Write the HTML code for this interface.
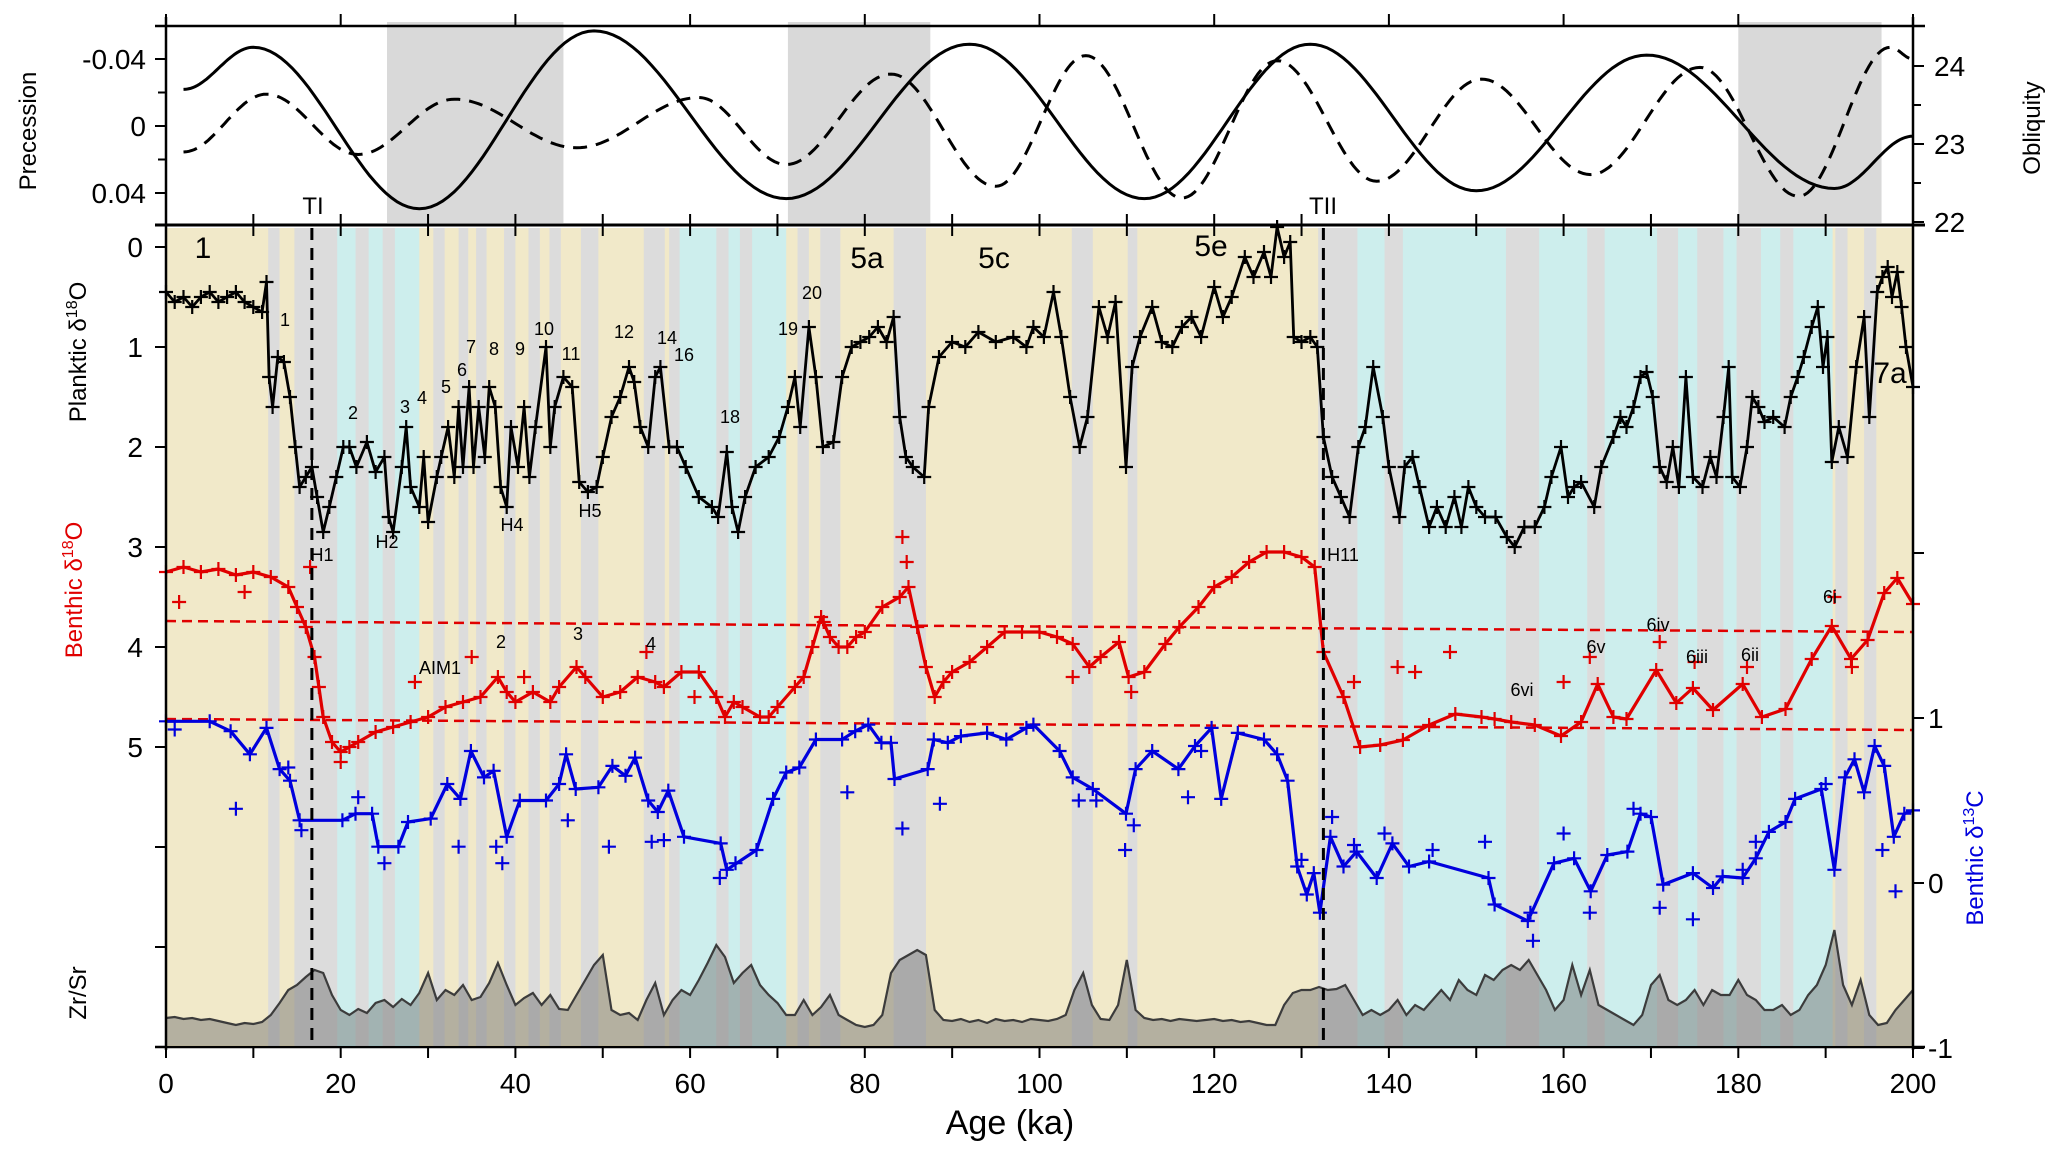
<!DOCTYPE html>
<html><head><meta charset="utf-8"><style>
html,body{margin:0;padding:0;background:#fff;}
svg{display:block;}
.tk{font-family:"Liberation Sans Narrow","Liberation Sans",sans-serif;font-size:28px;fill:#000;}
.ttl{font-family:"Liberation Sans","DejaVu Sans",sans-serif;font-size:24px;}
.an{font-family:"Liberation Sans Narrow","Liberation Sans",sans-serif;font-size:18px;fill:#000;}
.big{font-family:"Liberation Sans Narrow","Liberation Sans",sans-serif;font-size:30px;fill:#000;}
</style></head><body>
<svg id="chart" width="2067" height="1157" viewBox="0 0 2067 1157" xmlns="http://www.w3.org/2000/svg">
<g id="bands"></g>
<g id="topshade"></g>
<g id="series"></g>
<g id="axes"></g>
<g id="labels">
<text class="ttl" transform="translate(36,131) rotate(-90)" text-anchor="middle">Precession</text>
<text class="ttl" transform="translate(2040,128) rotate(-90)" text-anchor="middle">Obliquity</text>
<text class="ttl" transform="translate(86,352) rotate(-90)" text-anchor="middle">Planktic δ<tspan font-size="16" dy="-9">18</tspan><tspan dy="9">O</tspan></text>
<text class="ttl" fill="#e00000" transform="translate(82,590) rotate(-90)" text-anchor="middle">Benthic δ<tspan font-size="16" dy="-9">18</tspan><tspan dy="9">O</tspan></text>
<text class="ttl" transform="translate(86,993) rotate(-90)" text-anchor="middle">Zr/Sr</text>
<text class="ttl" fill="#0000dd" transform="translate(1983,858) rotate(-90)" text-anchor="middle">Benthic δ<tspan font-size="16" dy="-9">13</tspan><tspan dy="9">C</tspan></text>
<text class="tk" x="1010" y="1134" text-anchor="middle" style="font-size:34px">Age (ka)</text>
<text class="an" x="313" y="214" text-anchor="middle" style="font-size:24px">TI</text>
<text class="an" x="1323" y="214" text-anchor="middle" style="font-size:24px">TII</text>
<text class="big" x="203" y="258" text-anchor="middle">1</text>
<text class="big" x="867" y="268" text-anchor="middle">5a</text>
<text class="big" x="994" y="268" text-anchor="middle">5c</text>
<text class="big" x="1211" y="256" text-anchor="middle">5e</text>
<text class="big" x="1890" y="383" text-anchor="middle">7a</text>
</g>
</svg>
<script>
// ---- data ----
const bandStart=[0,11.7,13.0,14.7,19.6,21.7,23.2,24.8,26.2,29.0,30.6,31.9,33.5,34.6,35.5,36.7,38.7,40.0,41.5,42.8,43.9,45.2,47.5,49.5,54.7,57.1,57.6,58.8,63.0,64.4,65.7,67.1,71.0,72.3,73.6,74.9,77.2,83.3,87.0,103.7,106.1,110.1,111.2,131.9,136.4,139.5,141.6,153.4,157.2,162.7,164.7,170.7,173.1,175.3,178.3,179.8,182.6,184.8,186.3,190.8,191.1,192.5,194.4,195.8];
const bandType=['t','g','t','g','c','g','c','g','c','t','g','t','g','t','g','t','g','t','g','t','g','t','g','t','g','t','g','c','g','c','g','c','t','g','t','g','t','g','t','g','t','g','t','g','c','g','c','g','c','g','c','g','c','g','c','g','c','g','c','t','g','t','g','t'];
const shadeStart=[25.3,71.2,180];
const shadeEnd=[45.5,87.5,196.4];

const oblAge=[2,10,29,49,71,92,112,131,150,169.5,191,200];
const oblVal=[23.7,24.24,22.17,24.45,22.3,24.28,22.3,24.28,22.4,24.14,22.43,23.1];
const precAge=[2,11.5,22,33,47,61,71,83,95,105.3,116.3,127.2,138.6,150.6,163.1,175.6,186.9,197.4,200];
const precVal=[0.0155,-0.019,0.017,-0.016,0.013,-0.017,0.023,-0.031,0.036,-0.042,0.043,-0.039,0.033,-0.028,0.029,-0.035,0.042,-0.047,-0.04];

const plAge=[0,1,2,3,4,5,6,7,8,9,10,11,11.5,11.8,12.2,12.8,13.5,14.2,14.8,15.3,16,16.7,17.3,18,18.7,19.5,20.3,21,21.8,23,24,25,25.5,26,27,27.5,28,29,29.5,30,31,31.5,32.3,33,33.5,34,34.7,35.2,35.8,36.5,37,37.7,38.3,39,39.5,40.3,41,41.6,42.3,43.5,44,44.5,45.5,46.5,47.3,48.3,49.3,50,51,52,53,53.6,54.3,55.2,56,56.6,57.6,58.5,59.5,61,62.5,63.2,64.2,64.8,65.5,66.3,67.5,69,70.2,71.2,72,72.6,73.6,74.4,75.2,76.4,77.4,78.5,79.5,80.5,81.5,82.5,83.3,84,84.7,85.5,86.8,87.3,88.5,90,91.5,93,95,97,98.5,99.3,100.5,101.6,102.5,103.5,104.6,105.5,106.8,107.8,108.7,109.9,110.6,111.5,112.9,114,115.2,116.3,117.4,118.5,120,121,122,123.5,124.5,125.7,126.5,127.2,128,128.7,129.1,130,131,131.8,132.5,133.5,134.5,135.5,136.5,137.3,138.2,139.3,140,141.2,141.8,142.7,143.5,144.6,145.5,146.5,147.5,148.3,149.1,150,151,152.2,153.5,154.4,155.5,156.7,157.8,158.6,159.7,160.5,161.2,162,163.5,164.3,165.7,166.5,167.2,168,168.8,169.5,170.2,171,171.8,172.5,173.2,174,174.8,175.9,176.8,177.5,178.3,178.9,179.3,180.2,181,181.6,182.3,183,184,185.3,186,186.8,187.5,188.4,189.1,189.7,190.2,190.7,191.5,192.5,193.5,194.4,195,195.9,196.5,197.1,197.6,198.2,198.7,199.2,200];
const plVal=[0.45,0.55,0.5,0.6,0.5,0.45,0.55,0.5,0.45,0.55,0.6,0.65,0.35,1.3,1.6,1.1,1.15,1.5,2.0,2.4,2.3,2.2,2.5,2.85,2.6,2.3,2.0,2.0,2.2,1.95,2.25,2.1,2.7,2.85,2.2,1.8,2.4,2.6,2.1,2.75,2.3,2.1,1.8,2.3,1.6,2.2,1.4,2.2,1.6,2.1,1.4,1.6,2.4,2.6,1.8,2.2,1.6,2.3,1.8,1.0,2.0,1.6,1.3,1.4,2.35,2.45,2.4,2.1,1.7,1.5,1.2,1.35,1.8,2.0,1.3,1.2,2.0,2.0,2.2,2.5,2.6,2.7,2.05,2.6,2.85,2.5,2.2,2.1,1.9,1.6,1.3,1.8,0.8,1.3,2.0,1.95,1.3,1.0,0.95,0.9,0.8,0.95,0.7,1.7,2.1,2.2,2.3,1.6,1.1,0.95,1.0,0.85,0.95,0.9,1.0,0.8,0.9,0.45,0.9,1.5,2.0,1.7,0.6,0.9,0.55,2.2,1.2,0.9,0.6,0.95,1.0,0.8,0.7,0.9,0.4,0.7,0.5,0.1,0.3,0.05,0.3,-0.2,0.1,-0.05,0.9,0.95,0.9,1.0,1.9,2.3,2.5,2.7,2.0,1.8,1.2,1.7,2.2,2.7,2.2,2.1,2.4,2.8,2.6,2.8,2.5,2.8,2.4,2.6,2.7,2.7,2.9,3.0,2.8,2.8,2.6,2.3,2.0,2.5,2.4,2.35,2.6,2.2,1.9,1.7,1.8,1.6,1.3,1.25,1.5,2.2,2.35,2.0,2.4,1.3,2.3,2.4,2.1,2.3,1.7,1.2,2.3,2.4,2.0,1.5,1.6,1.75,1.7,1.8,1.5,1.3,1.1,0.8,0.6,1.2,0.9,2.15,1.8,2.1,1.2,0.7,1.7,0.45,0.3,0.2,0.5,0.25,0.6,1.0,1.4];

const bnAge=[0,2,4,6,8,10,12,14,15,16,17,17.5,18,19,20,21,22,24,26,28,30,32,34,36,38,39,40,42,44,45,47,48,50,52,54,56,57,59,61,63,64,65,66,68,69,70,72,73,74,75,76,77,78,79,80,82,84,85,86,87,88,89,90,92,94,96,98,100,102,103.8,105.7,107,109.1,110.2,112,114.4,116,118.2,120,122,124,126,128,130,131.5,132.5,134.8,136.7,139,141.6,144.6,147.6,150.6,152.1,154,156.7,159.7,162,163.9,165.7,167.2,170.6,172.9,174.8,177.1,180.5,182.7,185.4,188.4,190.7,192.9,194.8,196.7,198.2,200];
const bnVal=[3.25,3.2,3.25,3.22,3.28,3.25,3.3,3.4,3.6,3.8,4.1,4.4,4.7,4.95,5.05,5.0,4.95,4.85,4.8,4.75,4.7,4.6,4.55,4.5,4.3,4.45,4.55,4.45,4.55,4.4,4.2,4.3,4.5,4.45,4.3,4.35,4.4,4.25,4.25,4.5,4.7,4.55,4.6,4.7,4.7,4.6,4.4,4.3,4.0,3.7,3.9,4.0,4.0,3.9,3.85,3.6,3.5,3.4,3.8,4.2,4.5,4.35,4.25,4.15,4.0,3.85,3.85,3.85,3.9,3.97,4.2,4.1,3.95,4.3,4.25,3.97,3.8,3.6,3.4,3.3,3.15,3.05,3.05,3.1,3.2,4.05,4.5,5.0,4.98,4.93,4.78,4.67,4.7,4.72,4.75,4.78,4.89,4.75,4.37,4.7,4.72,4.23,4.56,4.41,4.63,4.37,4.7,4.62,4.12,3.79,4.12,3.93,3.46,3.31,3.57];

const cAge=[0,5,7.4,9.6,11.5,13,14.2,15.3,20.2,21.7,23.6,24.3,26.6,27.7,30.3,32.2,33.7,34.9,36.4,37.5,39,40.5,43.5,45,45.8,46.9,49.5,51.1,52.6,53.7,55.2,56.3,57.5,59.3,63.5,64.2,67.6,69.5,71,72.5,74.4,77.4,78.9,80.4,81.9,83,83.4,87.2,87.9,89.5,91,94,96.2,98.5,99.3,102.3,103.8,106.1,109.9,111,112.9,115.9,117.8,119.7,120.8,122.7,125.7,127.2,128.4,129.5,130.6,131.4,132.1,133.3,134.8,136.3,138.6,140.4,142.3,144.6,151.4,152.1,155.9,158.9,161.2,163.1,165,167.3,168.8,170,171.4,174.8,177.1,178.2,180.5,182,183.5,185.4,186.5,189.5,191,192.2,193.3,194.4,195.6,196.7,197.8,199,200];
const cVal=[0.98,0.98,0.92,0.78,0.94,0.69,0.62,0.38,0.38,0.42,0.42,0.22,0.22,0.37,0.39,0.6,0.51,0.8,0.64,0.68,0.28,0.5,0.5,0.6,0.78,0.57,0.58,0.71,0.65,0.76,0.5,0.43,0.56,0.28,0.24,0.08,0.2,0.51,0.67,0.7,0.87,0.87,0.92,0.96,0.85,0.85,0.63,0.69,0.87,0.85,0.89,0.91,0.87,0.94,0.96,0.8,0.64,0.57,0.42,0.69,0.8,0.69,0.83,0.94,0.51,0.91,0.87,0.78,0.62,0.1,-0.07,0.06,-0.18,0.28,0.1,0.19,0.03,0.24,0.1,0.13,0.03,-0.13,-0.23,0.12,0.15,-0.05,0.17,0.19,0.42,0.4,-0.01,0.06,-0.03,0.04,0.03,0.15,0.31,0.37,0.51,0.57,0.08,0.64,0.75,0.55,0.83,0.71,0.28,0.42,0.44];
const cOutAge=[1,8,14,15.5,22,25,33.5,37.8,38.5,46,50.7,55.6,57,63.4,65.2,78,84.3,88.6,104.5,106.5,109.8,110.8,117,118.5,130,133.5,136,139.5,145,151,156.2,156.5,160,163,168,171,174.8,180.5,182,190,196.5,198];
const cOutVal=[0.93,0.45,0.7,0.32,0.52,0.12,0.22,0.22,0.12,0.38,0.22,0.25,0.26,0.03,0.12,0.55,0.33,0.48,0.5,0.5,0.2,0.35,0.52,0.8,0.14,0.4,0.23,0.3,0.2,0.25,-0.18,-0.35,0.3,-0.18,0.45,-0.15,-0.22,0.08,0.25,0.6,0.2,-0.05];
const bOutAge=[1.5,9,16.5,20,28.5,35,41,55,60.5,75.3,84.3,84.8,103.8,110.5,136,141,143,147,160,163,171,175,181,191,193];
const bOutVal=[3.55,3.45,3.2,5.15,4.35,4.1,4.3,4.05,4.5,3.75,2.9,3.15,4.3,4.45,4.35,4.2,4.25,4.05,4.35,4.1,3.95,4.15,4.2,3.5,4.2];

const zrVal=[
0.27,0.28,0.26,0.27,0.25,0.26,0.24,0.22,0.2,0.22,
0.21,0.23,0.3,0.42,0.55,0.6,0.68,0.75,0.72,0.5,
0.35,0.3,0.36,0.32,0.42,0.45,0.38,0.46,0.4,0.52,
0.72,0.45,0.55,0.5,0.6,0.45,0.48,0.62,0.82,0.6,
0.4,0.47,0.52,0.4,0.5,0.36,0.35,0.5,0.65,0.8,
0.9,0.35,0.3,0.32,0.25,0.45,0.62,0.3,0.45,0.55,
0.5,0.65,0.82,1.0,0.88,0.62,0.72,0.8,0.6,0.5,
0.42,0.3,0.3,0.45,0.3,0.38,0.5,0.3,0.25,0.2,
0.18,0.2,0.3,0.72,0.85,0.9,0.95,0.9,0.35,0.25,
0.24,0.26,0.23,0.25,0.22,0.26,0.24,0.25,0.23,0.26,
0.25,0.24,0.26,0.3,0.55,0.72,0.4,0.26,0.25,0.4,
0.85,0.35,0.27,0.25,0.26,0.24,0.26,0.25,0.24,0.25,
0.26,0.24,0.25,0.23,0.24,0.22,0.2,0.2,0.4,0.52,
0.55,0.55,0.58,0.55,0.56,0.6,0.45,0.3,0.35,0.3,
0.35,0.45,0.3,0.4,0.35,0.45,0.55,0.45,0.65,0.55,
0.5,0.7,0.65,0.75,0.8,0.75,0.85,0.7,0.55,0.35,
0.45,0.8,0.5,0.75,0.4,0.35,0.3,0.25,0.2,0.3,
0.6,0.7,0.45,0.4,0.45,0.55,0.4,0.55,0.5,0.5,
0.65,0.5,0.45,0.35,0.35,0.4,0.3,0.35,0.5,0.6,
0.8,1.15,0.6,0.4,0.65,0.3,0.2,0.22,0.35,0.45,
0.55];
const zrAge=zrVal.map((v,i)=>i);

const xTicks=[0,20,40,60,80,100,120,140,160,180,200];
const precTicks=[-0.04,0,0.04];
const precTickLabels=['-0.04','0','0.04'];
const oblTicks=[24,23,22];
const leftTicks=[0,1,2,3,4,5];
const rightTicks=[1,0,-1];

// ---- scales ----
const X0=166,X1=1913;
const x=a=>X0+a*(X1-X0)/200;
const yP=v=>247+v*100;
const yC=v=>883-v*165;
const yPrec=p=>126+p*1675;
const yObl=o=>144-(o-23)*78;
const yZr=v=>1045-v*100;

const NS='http://www.w3.org/2000/svg';
function mk(tag,parent,attrs){const e=document.createElementNS(NS,tag);for(const k in attrs)e.setAttribute(k,attrs[k]);parent.appendChild(e);return e;}
const gB=document.getElementById('bands'),gT=document.getElementById('topshade'),gS=document.getElementById('series'),gA=document.getElementById('axes');

const bandColor={t:'#f1e9c9',g:'#dcdcdc',c:'#cdeeed'};
for(let i=0;i<bandStart.length;i++){
  const end=i+1<bandStart.length?bandStart[i+1]:200;
  const r=mk('rect',gB,{x:x(bandStart[i]),y:228,width:x(end)-x(bandStart[i])+0.5,height:819,fill:bandColor[bandType[i]]});
  
  
}
for(let i=0;i<shadeStart.length;i++){
  const r=mk('rect',gT,{x:x(shadeStart[i]),y:22,width:x(shadeEnd[i])-x(shadeStart[i]),height:201,fill:'#d9d9d9'});
  
  
}

function easePath(ages,vals,fy){
  let d='';
  for(let i=0;i<ages.length-1;i++){
    const n=30;
    for(let k=0;k<=n;k++){
      const t=k/n, e=(1-Math.cos(Math.PI*t))/2;
      const a=ages[i]+(ages[i+1]-ages[i])*t, v=vals[i]+(vals[i+1]-vals[i])*e;
      d+=(d?'L':'M')+x(a).toFixed(1)+','+fy(v).toFixed(1);
    }
  }
  return d;
}
const obl=mk('path',gS,{d:easePath(oblAge,oblVal,yObl),fill:'none',stroke:'#000','stroke-width':3});


const prec=mk('path',gS,{d:easePath(precAge,precVal,yPrec),fill:'none',stroke:'#000','stroke-width':3,'stroke-dasharray':'14,9'});



let zd='M'+x(0)+','+1045;
for(let i=0;i<zrAge.length;i++) zd+='L'+x(zrAge[i]).toFixed(1)+','+yZr(zrVal[i]).toFixed(1);
const zf=mk('path',gS,{d:zd+'L'+x(200)+',1045Z',fill:'rgba(120,120,120,0.5)',stroke:'none'});


let zl='';
for(let i=0;i<zrAge.length;i++) zl+=(i?'L':'M')+x(zrAge[i]).toFixed(1)+','+yZr(zrVal[i]).toFixed(1);
const zline=mk('path',gS,{d:zl,fill:'none',stroke:'#3c3c3c','stroke-width':2.2});



const rl1=mk('line',gS,{x1:x(0),y1:621,x2:x(200),y2:632,stroke:'#e00000','stroke-width':2.5,'stroke-dasharray':'10,6'});


const rl2=mk('line',gS,{x1:x(0),y1:719,x2:x(200),y2:730,stroke:'#e00000','stroke-width':2.5,'stroke-dasharray':'10,6'});



function lineSeries(ages,vals,fy,color,w,name){
  let d='';
  for(let i=0;i<ages.length;i++) d+=(i?'L':'M')+x(ages[i]).toFixed(1)+','+fy(vals[i]).toFixed(1);
  const p=mk('path',gS,{d:d,fill:'none',stroke:color,'stroke-width':w,'stroke-linejoin':'round'});
  
  
}
function markers(ages,vals,fy,color,name){
  let d='';
  for(let i=0;i<ages.length;i++){const px=x(ages[i]),py=fy(vals[i]);d+='M'+(px-7).toFixed(1)+','+py.toFixed(1)+'h14M'+px.toFixed(1)+','+(py-7).toFixed(1)+'v14';}
  const p=mk('path',gS,{d:d,fill:'none',stroke:color,'stroke-width':2.2});
  
  
}
lineSeries(plAge,plVal,yP,'#000',2.8,'planktic-d18o');
markers(plAge,plVal,yP,'#000','planktic-d18o');
lineSeries(bnAge,bnVal,yP,'#e00000',3.2,'benthic-d18o');
markers(bnAge,bnVal,yP,'#e00000','benthic-d18o');
markers(bOutAge,bOutVal,yP,'#e00000','benthic-d18o-outlier');
lineSeries(cAge,cVal,yC,'#0000dd',3.2,'benthic-d13c');
markers(cAge,cVal,yC,'#0000dd','benthic-d13c');
markers(cOutAge,cOutVal,yC,'#0000dd','benthic-d13c-outlier');

const t1=mk('line',gS,{x1:x(16.7),y1:228,x2:x(16.7),y2:1045,stroke:'#000','stroke-width':3,'stroke-dasharray':'12,8'});


const t2=mk('line',gS,{x1:x(132.5),y1:228,x2:x(132.5),y2:1040,stroke:'#000','stroke-width':3,'stroke-dasharray':'12,8'});



function ln(x1,y1,x2,y2,w,name){const l=mk('line',gA,{x1:x1,y1:y1,x2:x2,y2:y2,stroke:'#000','stroke-width':w});}
ln(155,26,1925,26,2.5,'top-frame');
ln(155,225,1925,225,3,'panel-divider');
ln(X0,17,X0,1050,2.5,'left-axis');
ln(X1,17,X1,1050,2.5,'right-axis');
ln(155,1047,1925,1047,2.5,'x-axis');
for(let a=0;a<=200;a+=10){
  ln(x(a),1047,x(a),1058,2,'x-tick');
  ln(x(a),214,x(a),225,2,'top-panel-tick');
  ln(x(a),225,x(a),236,2,'lower-panel-top-tick');
}
for(let a=0;a<=200;a+=20) ln(x(a),14,x(a),26,2,'top-axis-tick');
function txt(s,tx,ty,anchor,cls,name,fill){const t=mk('text',gA,{x:tx,y:ty,'text-anchor':anchor,class:cls});if(fill)t.setAttribute('fill',fill);t.textContent=s;return t;}
xTicks.forEach(a=>txt(String(a),x(a),1093,'middle','tk','x-tick-label'));
precTicks.forEach((p,i)=>{ln(155,yPrec(p),X0,yPrec(p),2,'precession-tick');txt(precTickLabels[i],146,yPrec(p)+10,'end','tk','precession-tick-label');});
[-0.02,0.02].forEach(p=>ln(158,yPrec(p),X0,yPrec(p),2,'precession-minor-tick'));
oblTicks.forEach(o=>{ln(X1,yObl(o),X1+11,yObl(o),2,'obliquity-tick');txt(String(o),1934,yObl(o)+10,'start','tk','obliquity-tick-label');});
[23.5,22.5].forEach(o=>ln(X1,yObl(o),X1+8,yObl(o),2,'obliquity-minor-tick'));
leftTicks.forEach(v=>{ln(155,yP(v),X0,yP(v),2,'left-tick');txt(String(v),143,yP(v)+10,'end','tk','left-tick-label');});
[6,7].forEach(v=>ln(155,yP(v),X0,yP(v),2,'left-tick'));
rightTicks.forEach(v=>{ln(X1,yC(v),X1+11,yC(v),2,'right-tick');txt(v===-1?'-1':String(v),1928,yC(v)+10,'start','tk','right-tick-label');});
ln(X1,yC(2),X1+11,yC(2),2,'right-tick');

const anText=['1','2','3','4','5','6','7','8','9','10','11','12','14','16','18','19','20','H1','H2','H4','H5','H11','AIM1','2','3','4','6vi','6v','6iv','6iii','6ii','6i'];
const anX=[285,353,405,422,446,462,471,494,520,544,571,624,667,684,730,788,812,322,387,512,590,1343,440,501,578,651,1522,1596,1658,1697,1750,1830];
const anY=[326,419,413,404,393,376,353,355,355,335,360,338,344,361,423,335,299,561,548,531,517,561,674,648,640,650,696,653,631,663,661,603];
const gL=document.getElementById('labels');
for(let i=0;i<anText.length;i++){
  const t=mk('text',gL,{x:anX[i],y:anY[i],'text-anchor':'middle',class:'an'});
  t.textContent=anText[i];
  
  
}
</script>
</body></html>
